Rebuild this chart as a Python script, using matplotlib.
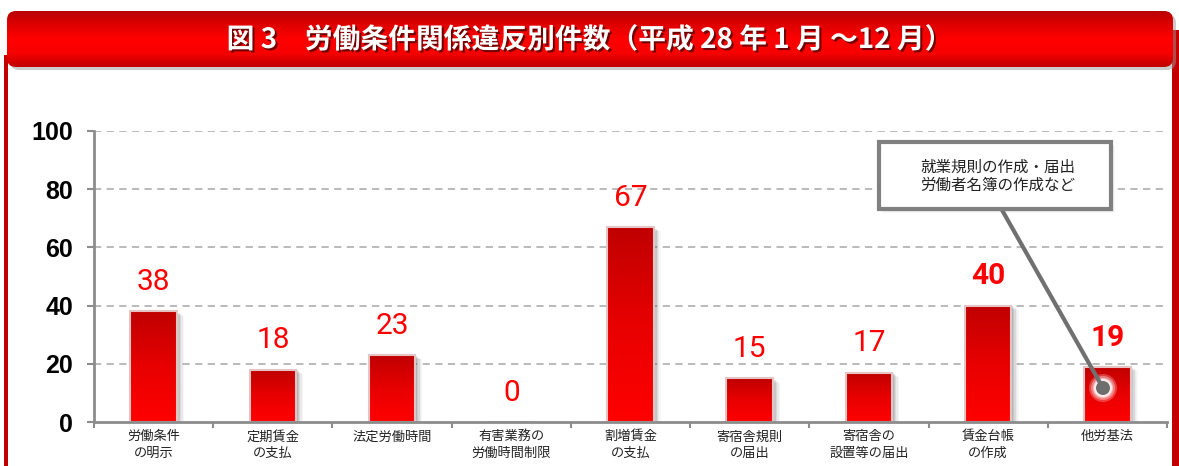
import matplotlib
matplotlib.use("Agg")
import matplotlib.pyplot as plt
import numpy as np
from matplotlib.patches import FancyBboxPatch, Rectangle, Circle
import matplotlib.patheffects as pe
from matplotlib.colors import LinearSegmentedColormap

plt.rcParams['font.family'] = ['Noto Sans CJK JP', 'DejaVu Sans']

categories = ["労働条件\nの明示", "定期賃金\nの支払", "法定労働時間", "有害業務の\n労働時間制限",
              "割増賃金\nの支払", "寄宿舎規則\nの届出", "寄宿舎の\n設置等の届出", "賃金台帳\nの作成", "他労基法"]
values = [38, 18, 23, 0, 67, 15, 17, 40, 19]
bold_labels = [False, False, False, False, False, False, False, True, True]
yticks = [0, 20, 40, 60, 80, 100]
title = "図 3　労働条件関係違反別件数（平成 28 年 1 月 ～12 月）"
note_lines = ["就業規則の作成・届出", "労働者名簿の作成など"]

W, H = 1179, 466
fig = plt.figure(figsize=(W / 100, H / 100), dpi=100)

# background / frame axes in pixel coords
bg = fig.add_axes([0, 0, 1, 1], zorder=0)
bg.set_xlim(0, W)
bg.set_ylim(H, 0)
bg.axis('off')

# side red borders
bg.add_patch(Rectangle((4, 55), 4, H - 55, color='#c40000', lw=0))
bg.add_patch(Rectangle((1172, 30), 7, H - 30, color='#c40000', lw=0))

# banner with gradient
banner_cmap = LinearSegmentedColormap.from_list('ban', ['#b80000', '#e00000', '#ff0000', '#f80000', '#c00000'])
shadow = FancyBboxPatch((10, 14), 1166, 56, boxstyle="round,pad=0,rounding_size=9",
                        fc='#999999', ec='none', alpha=0.5)
bg.add_patch(shadow)
banner = FancyBboxPatch((7, 11), 1166, 56, boxstyle="round,pad=0,rounding_size=9",
                        fc='none', ec='none')
bg.add_patch(banner)
grad = np.linspace(0, 1, 100).reshape(-1, 1)
im = bg.imshow(grad, cmap=banner_cmap, extent=(7, 1173, 67, 11), aspect='auto', zorder=1)
im.set_clip_path(banner)
bg.set_xlim(0, W)
bg.set_ylim(H, 0)

bg.text(589, 40, title, ha='center', va='center', fontsize=20, fontweight='bold', color='white',
        zorder=3, path_effects=[pe.withSimplePatchShadow(offset=(1.5, -1.5), shadow_rgbFace='#500000', alpha=0.8)])

# main axes
x0, x1 = 94, 1167
ybot, ytop = 422, 131
ax = fig.add_axes([x0 / W, 1 - ybot / H, (x1 - x0) / W, (ybot - ytop) / H], zorder=2)
ax.patch.set_alpha(0)
n = len(categories)
xs = np.arange(n)
ax.set_xlim(-0.5, n - 0.5)
ax.set_ylim(0, 100)

bar_w = 0.39
bars = ax.bar(xs, values, width=bar_w, color='none', edgecolor='#e6c4c4', linewidth=1.5, zorder=4)
bar_cmap = LinearSegmentedColormap.from_list('bar', ['#ff0000', '#e80000', '#c00000'])
for b, v in zip(bars, values):
    if v <= 0:
        continue
    bx = b.get_x()
    bw = b.get_width()
    # soft shadow
    for k, a in zip(range(1, 6), [0.18, 0.15, 0.12, 0.08, 0.05]):
        ax.add_patch(Rectangle((bx + bw, 0), 0.012 * k, v - 1.0 * k * 0.3, color='#606060', alpha=a, lw=0, zorder=3))
    g = np.linspace(0, 1, 100).reshape(-1, 1)
    img = ax.imshow(g, cmap=bar_cmap, extent=(bx, bx + bw, 0, v), origin='lower', aspect='auto', zorder=3.5)
    img.set_clip_path(b)
ax.set_xlim(-0.5, n - 0.5)
ax.set_ylim(0, 100)

for x, v, bl in zip(xs, values, bold_labels):
    ax.annotate(str(v), (x, v), xytext=(0, 21), textcoords='offset points', ha='center', va='center',
                fontsize=21.5, color='#ff0000', fontweight='bold' if bl else 'normal',
                family=['Roboto', 'DejaVu Sans'], zorder=6)

# grid
for yv in yticks[1:]:
    ax.axhline(yv, color='#b4b4b4', lw=1.3, ls=(0, (4, 3)), zorder=1)

for s in ['top', 'right']:
    ax.spines[s].set_visible(False)
for s in ['left', 'bottom']:
    ax.spines[s].set_color('#8c8c8c')
    ax.spines[s].set_linewidth(2)
    ax.spines[s].set_zorder(5)

ax.set_yticks(yticks)
ax.set_yticklabels([str(t) for t in yticks], fontsize=18, fontweight='bold', color='black',
                   family=['Liberation Sans', 'DejaVu Sans'])
ax.tick_params(axis='y', length=5, width=1.5, color='#8c8c8c', pad=10)
ax.set_xticks(xs)
ax.set_xticklabels(categories, fontsize=9.5, color='#222222', linespacing=1.35)
ax.tick_params(axis='x', which='major', length=0, pad=6)
ax.set_xticks(np.arange(-0.5, n, 1.0), minor=True)
ax.tick_params(axis='x', which='minor', length=4, width=1.5, color='#8c8c8c', direction='out')

# annotation overlay
ov = fig.add_axes([0, 0, 1, 1], zorder=3)
ov.set_xlim(0, W)
ov.set_ylim(H, 0)
ov.axis('off')
ov.patch.set_alpha(0)
# glow around dot
for r, a in zip([14, 12, 10, 9], [0.25, 0.35, 0.5, 0.7]):
    ov.add_patch(Circle((1103, 388), r, color='white', alpha=a, lw=0))
ov.plot([1002, 1103], [210, 388], color='#707070', lw=3, solid_capstyle='round')
ov.add_patch(Circle((1103, 388), 7, color='#6e6e6e', lw=0, zorder=5))
# box shadow and box
for k, a in zip(range(1, 5), [0.18, 0.13, 0.09, 0.05]):
    ov.add_patch(Rectangle((879 + k, 142 + k), 232, 67, fc='#808080', ec='none', alpha=a))
ov.add_patch(Rectangle((879, 142), 232, 67, fc='white', ec='#808080', lw=3, zorder=4))
ov.text(920, 167, note_lines[0], ha='left', va='center', fontsize=11.2, color='#222222', zorder=5)
ov.text(920, 185, note_lines[1], ha='left', va='center', fontsize=11.2, color='#222222', zorder=5)

fig.savefig('out.png', dpi=100)
